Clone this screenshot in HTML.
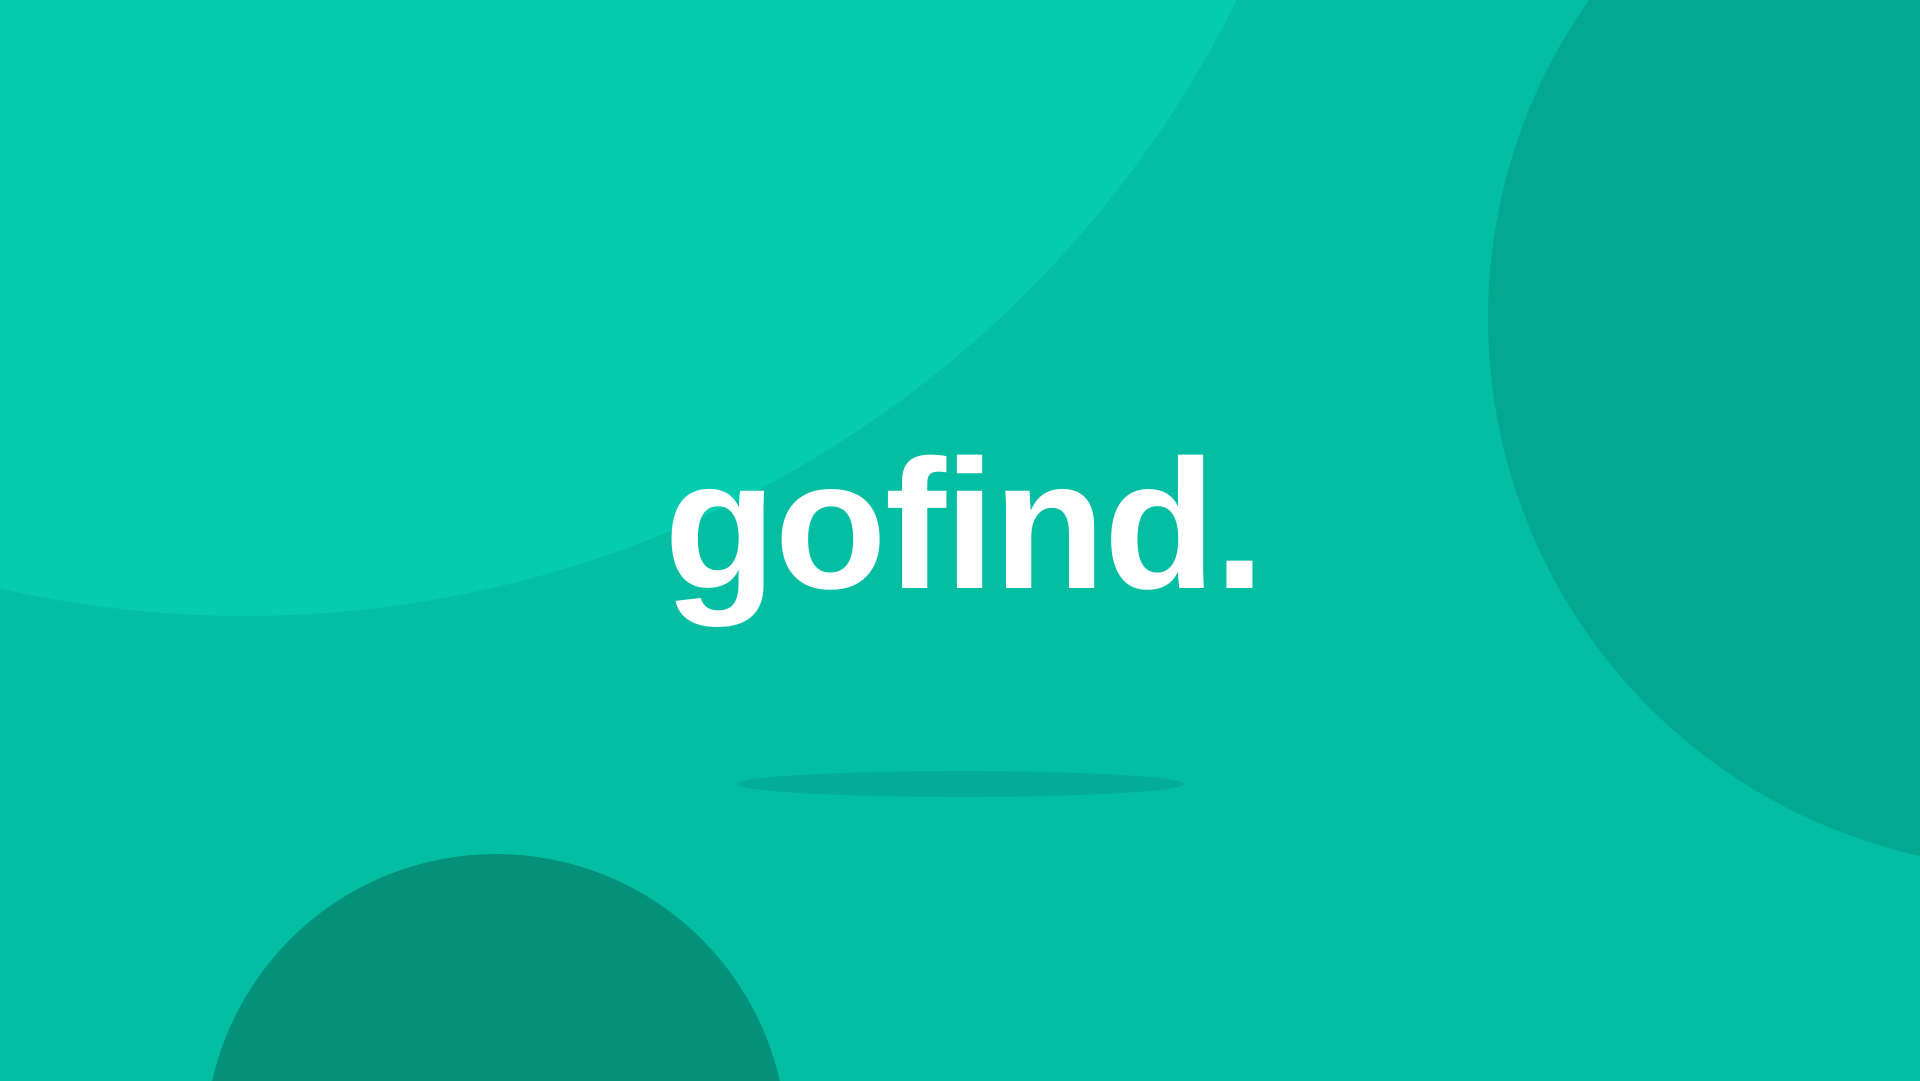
<!DOCTYPE html>
<html><head><meta charset="utf-8"><style>
html,body{margin:0;padding:0;width:1920px;height:1081px;overflow:hidden;background:#04bfa5;position:relative}
svg{display:block;position:absolute;left:0;top:0}
.logo{position:absolute;left:664px;top:432px;font-family:"Liberation Sans",sans-serif;font-weight:bold;font-size:184px;line-height:184px;color:#fff;letter-spacing:-2px;white-space:nowrap}
</style></head><body>
<svg width="1920" height="1081" viewBox="0 0 1920 1081">
<rect width="1920" height="1081" fill="#04bea4"/>
<circle cx="245" cy="-490" r="1106" fill="#05ccb1"/>
<circle cx="2039" cy="318" r="551" fill="#03a891"/>
<circle cx="496" cy="1145" r="291" fill="#03917c"/>
<ellipse cx="961" cy="784" rx="224" ry="13" fill="#04ad95"/>
</svg>
<div class="logo">gofind.</div>
</body></html>
